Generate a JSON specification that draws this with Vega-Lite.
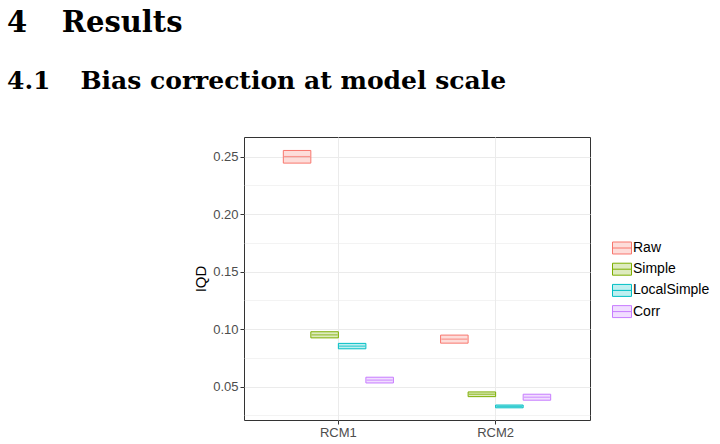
{
  "$schema": "https://vega.github.io/schema/vega-lite/v6.json",
  "autosize": "none",
  "padding": {"left": 244, "top": 137, "right": 130, "bottom": 24},
  "width": 346,
  "height": 283,
  "background": "white",
  "title": {
    "text": "4\u2002\u00a0\u00a0Results",
    "subtitle": "4.1\u2002\u00a0\u00a0Bias correction at model scale",
    "anchor": "start",
    "frame": "group",
    "dx": -237,
    "offset": 43,
    "font": "DejaVu Serif",
    "fontSize": 29,
    "fontWeight": "bold",
    "color": "black",
    "subtitleFont": "DejaVu Serif",
    "subtitleFontSize": 25,
    "subtitleFontWeight": "bold",
    "subtitleColor": "black",
    "subtitlePadding": 31
  },
  "data": {
    "values": [
      {"model": "RCM1", "method": "Raw", "q1": 0.2443, "median": 0.2500, "q3": 0.2553},
      {"model": "RCM1", "method": "Simple", "q1": 0.0924, "median": 0.0950, "q3": 0.0977},
      {"model": "RCM1", "method": "LocalSimple", "q1": 0.0829, "median": 0.0852, "q3": 0.0876},
      {"model": "RCM1", "method": "Corr", "q1": 0.0532, "median": 0.0557, "q3": 0.0582},
      {"model": "RCM2", "method": "Raw", "q1": 0.0878, "median": 0.0913, "q3": 0.0948},
      {"model": "RCM2", "method": "Simple", "q1": 0.0413, "median": 0.0434, "q3": 0.0454},
      {"model": "RCM2", "method": "LocalSimple", "q1": 0.0316, "median": 0.0329, "q3": 0.0340},
      {"model": "RCM2", "method": "Corr", "q1": 0.0382, "median": 0.0408, "q3": 0.0434}
    ]
  },
  "encoding": {
    "x": {
      "field": "model",
      "type": "nominal",
      "title": null,
      "scale": {"paddingInner": 0.3, "paddingOuter": 0.25},
      "axis": {"labelAngle": 0, "grid": true}
    },
    "xOffset": {
      "field": "method",
      "type": "nominal",
      "sort": ["Raw", "Simple", "LocalSimple", "Corr"],
      "scale": {"paddingInner": 0, "paddingOuter": 0}
    }
  },
  "layer": [
    {
      "mark": {"type": "bar", "fillOpacity": 0.25, "strokeWidth": 1},
      "encoding": {
        "y": {
          "field": "q1",
          "type": "quantitative",
          "title": "IQD",
          "scale": {"domain": [0.021, 0.267], "nice": false, "zero": false},
          "axis": {
            "values": [0.05, 0.1, 0.15, 0.2, 0.25],
            "format": ".2f",
            "grid": true,
            "gridWidth": 1,
            "titleFont": "Liberation Sans",
            "titleFontSize": 15,
            "titlePadding": 4
          }
        },
        "y2": {"field": "q3"},
        "fill": {
          "field": "method",
          "type": "nominal",
          "title": null,
          "scale": {"domain": ["Raw", "Simple", "LocalSimple", "Corr"], "range": ["#F8766D", "#7CAE00", "#00BFC4", "#C77CFF"]},
          "legend": {
            "orient": "none",
            "legendX": 368,
            "legendY": 101,
            "symbolType": "M-1,-0.63H1V0.63H-1Z M-1,0H1",
            "symbolSize": 361,
            "symbolStrokeWidth": 1,
            "labelFont": "Liberation Sans",
            "labelFontSize": 14,
            "labelColor": "black",
            "labelOffset": 1,
            "rowPadding": 3.2,
            "encode": {"symbols": {"update": {"fillOpacity": {"value": 0.25}}}}
          }
        },
        "stroke": {
          "field": "method",
          "type": "nominal",
          "title": null,
          "scale": {"domain": ["Raw", "Simple", "LocalSimple", "Corr"], "range": ["#F8766D", "#7CAE00", "#00BFC4", "#C77CFF"]}
        }
      }
    },
    {
      "mark": {"type": "tick", "orient": "horizontal", "thickness": 1.2, "size": 26},
      "encoding": {
        "y": {
          "field": "median",
          "type": "quantitative",
          "axis": {
            "orient": "right",
            "values": [0.025, 0.075, 0.125, 0.175, 0.225],
            "grid": true,
            "gridWidth": 0.6,
            "labels": false,
            "ticks": false,
            "domain": false,
            "title": null
          }
        },
        "color": {
          "field": "method",
          "type": "nominal",
          "legend": null,
          "scale": {"domain": ["Raw", "Simple", "LocalSimple", "Corr"], "range": ["#F8766D", "#7CAE00", "#00BFC4", "#C77CFF"]}
        }
      }
    }
  ],
  "resolve": {"axis": {"y": "independent"}},
  "config": {
    "font": "Liberation Sans",
    "view": {"stroke": "#333333", "strokeWidth": 1},
    "axis": {
      "domain": false,
      "gridColor": "#EBEBEB",
      "tickColor": "#333333",
      "tickSize": 4,
      "labelColor": "#4D4D4D",
      "labelFont": "Liberation Sans",
      "labelFontSize": 13,
      "labelPadding": 2,
      "titleFont": "Liberation Sans",
      "titleFontSize": 15,
      "titleFontWeight": "normal",
      "titleColor": "black",
      "titlePadding": 4
    }
  }
}
